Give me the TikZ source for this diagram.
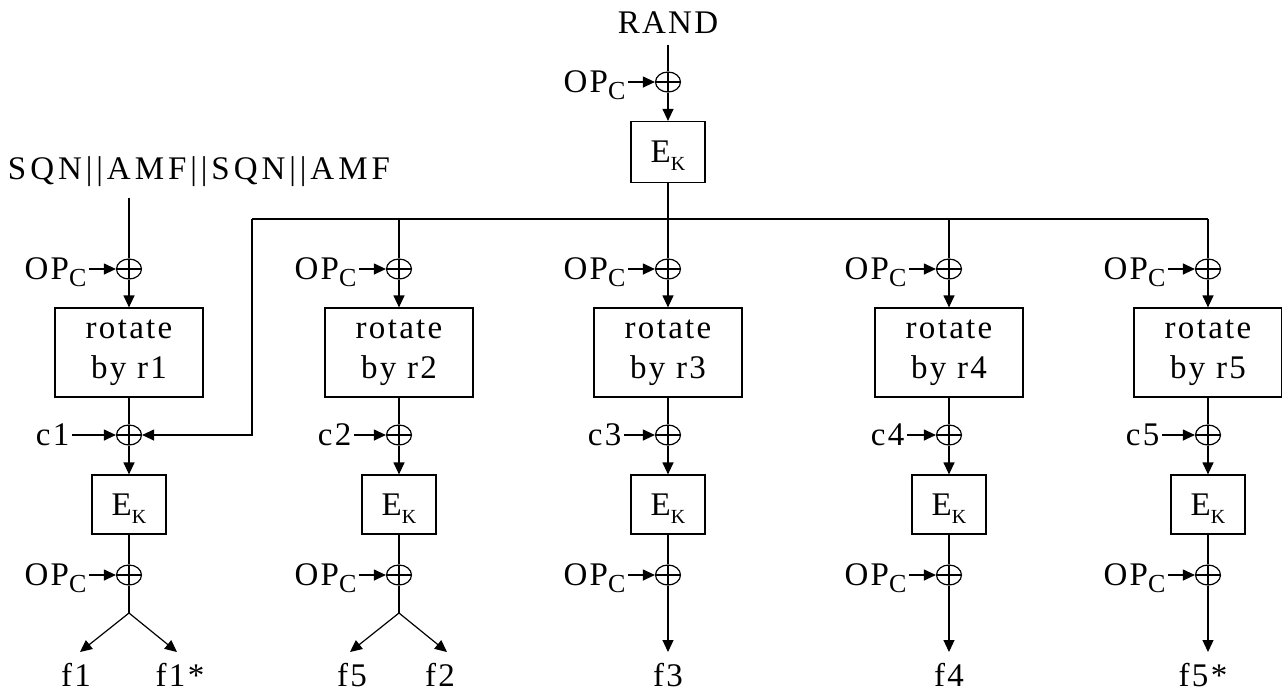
\documentclass[tikz,border=0pt]{standalone}
\usepackage{fontspec}
\setmainfont{Liberation Serif}[LetterSpace=7]
\usetikzlibrary{shapes.geometric,arrows.meta,positioning}
\newcommand{\subc}[1]{\raisebox{-3.5pt}[0pt][0pt]{\fontsize{13}{13}\selectfont #1}}
\newcommand{\subk}[1]{\raisebox{-4pt}[0pt][0pt]{\fontsize{10}{10}\selectfont #1}}
\newcommand{\opc}{OP\subc{C}}
\newcommand{\ek}{E\subk{K}}
\begin{document}
\begin{tikzpicture}[x=0.5pt,y=-0.5pt,line width=0.6pt,
    every node/.style={font=\fontsize{16.5}{20}\selectfont},
    box/.style={draw,inner sep=0pt,align=center},
    rot/.style={box,minimum width=74pt,minimum height=44.5pt},
    ekbox/.style={box,minimum width=37pt,minimum height=29.5pt},
    xor/.style={draw,ellipse,inner sep=0pt,minimum width=12.5pt,minimum height=10pt,
      path picture={\draw (path picture bounding box.west) -- (path picture bounding box.east)
        (path picture bounding box.north) -- (path picture bounding box.south);}},
    arr/.style={-{Triangle[length=6pt,width=5.5pt]}},
    lbl/.style={inner sep=1pt}]
      \useasboundingbox (0,0) rectangle (1282,693);
      % Top: RAND
      \node[inner sep=5pt] (rand) at (668,23) {RAND};
      \node[xor] (x0) at (668,82) {};
      \node[lbl,anchor=east] (op0) at (628,82) {\opc};
      \node[ekbox,minimum height=30.5pt] (e0) at (668,152) {\ek};
      \draw (rand.south) -- (x0.north);
      \draw[arr] (op0.east) -- (x0.west);
      \draw[arr] (x0) -- (e0);
      % Bus
      \coordinate (bl) at (252,219);
      \coordinate (br) at (1208,219);
      \draw (e0.south) -- (e0.south |- bl);
      \draw (bl) -- (br);
      % SQN input
      \node[inner sep=5pt,font=\fontsize{16.5}{20}\selectfont\addfontfeature{LetterSpace=12}] (sqn) at (199,172) {SQN||AMF||SQN||AMF};
      % Column 1
      \node[xor] (a1) at (129,269) {};
      \node[lbl,anchor=east] (opa1) at (89,269) {\opc};
      \node[rot] (r1) at (129,352.5) {rotate\\by r1};
      \node[xor] (b1) at (129,435) {};
      \node[lbl,anchor=east] (c1) at (72,435) {c1};
      \node[ekbox] (e1) at (129,504.5) {\ek};
      \node[xor] (d1) at (129,575) {};
      \node[lbl,anchor=east] (opd1) at (89,575) {\opc};
      \coordinate (s1) at (129,613);
      \coordinate (t1a) at (80,652);
      \coordinate (t1b) at (177,652);
      \node (f1) at (76,675) {f1};
      \node (f1s) at (180,675) {f1*};
      \draw (sqn.south -| a1) -- (a1.north);
      \draw[arr] (opa1.east) -- (a1.west);
      \draw[arr] (a1) -- (r1);
      \draw (r1) -- (b1);
      \draw[arr] (c1.east) -- (b1.west);
      \draw[arr] (bl) -- (bl |- b1) -- (b1.east);
      \draw[arr] (b1) -- (e1);
      \draw (e1) -- (d1);
      \draw[arr] (opd1.east) -- (d1.west);
      \draw (d1) -- (s1);
      \draw[arr] (s1) -- (t1a);
      \draw[arr] (s1) -- (t1b);
      % Column 2
      \node[xor] (a2) at (399,269) {};
      \node[lbl,anchor=east] (opa2) at (359,269) {\opc};
      \node[rot] (r2) at (399,352.5) {rotate\\by r2};
      \node[xor] (b2) at (399,435) {};
      \node[lbl,anchor=east] (c2) at (354,435) {c2};
      \node[ekbox] (e2) at (399,504.5) {\ek};
      \node[xor] (d2) at (399,575) {};
      \node[lbl,anchor=east] (opd2) at (359,575) {\opc};
      \coordinate (s2) at (399,613);
      \coordinate (t2a) at (350,652);
      \coordinate (t2b) at (447,652);
      \node (f5) at (352,675) {f5};
      \node (f2) at (440,675) {f2};
      \draw (a2 |- bl) -- (a2.north);
      \draw[arr] (opa2.east) -- (a2.west);
      \draw[arr] (a2) -- (r2);
      \draw (r2) -- (b2);
      \draw[arr] (c2.east) -- (b2.west);
      \draw[arr] (b2) -- (e2);
      \draw (e2) -- (d2);
      \draw[arr] (opd2.east) -- (d2.west);
      \draw (d2) -- (s2);
      \draw[arr] (s2) -- (t2a);
      \draw[arr] (s2) -- (t2b);
      % Column 3
      \node[xor] (a3) at (668,269) {};
      \node[lbl,anchor=east] (opa3) at (628,269) {\opc};
      \node[rot] (r3) at (668,352.5) {rotate\\by r3};
      \node[xor] (b3) at (668,435) {};
      \node[lbl,anchor=east] (c3) at (624,435) {c3};
      \node[ekbox] (e3) at (668,504.5) {\ek};
      \node[xor] (d3) at (668,575) {};
      \node[lbl,anchor=east] (opd3) at (628,575) {\opc};
      \coordinate (t3) at (668,652);
      \node (f3) at (668,675) {f3};
      \draw (e0.south |- bl) -- (a3.north);
      \draw[arr] (opa3.east) -- (a3.west);
      \draw[arr] (a3) -- (r3);
      \draw (r3) -- (b3);
      \draw[arr] (c3.east) -- (b3.west);
      \draw[arr] (b3) -- (e3);
      \draw (e3) -- (d3);
      \draw[arr] (opd3.east) -- (d3.west);
      \draw[arr] (d3) -- (t3);
      % Column 4
      \node[xor] (a4) at (949,269) {};
      \node[lbl,anchor=east] (opa4) at (909,269) {\opc};
      \node[rot] (r4) at (949,352.5) {rotate\\by r4};
      \node[xor] (b4) at (949,435) {};
      \node[lbl,anchor=east] (c4) at (907,435) {c4};
      \node[ekbox] (e4) at (949,504.5) {\ek};
      \node[xor] (d4) at (949,575) {};
      \node[lbl,anchor=east] (opd4) at (909,575) {\opc};
      \coordinate (t4) at (949,652);
      \node (f4) at (949,675) {f4};
      \draw (a4 |- bl) -- (a4.north);
      \draw[arr] (opa4.east) -- (a4.west);
      \draw[arr] (a4) -- (r4);
      \draw (r4) -- (b4);
      \draw[arr] (c4.east) -- (b4.west);
      \draw[arr] (b4) -- (e4);
      \draw (e4) -- (d4);
      \draw[arr] (opd4.east) -- (d4.west);
      \draw[arr] (d4) -- (t4);
      % Column 5
      \node[xor] (a5) at (1208,269) {};
      \node[lbl,anchor=east] (opa5) at (1168,269) {\opc};
      \node[rot] (r5) at (1208,352.5) {rotate\\by r5};
      \node[xor] (b5) at (1208,435) {};
      \node[lbl,anchor=east] (c5) at (1162,435) {c5};
      \node[ekbox] (e5) at (1208,504.5) {\ek};
      \node[xor] (d5) at (1208,575) {};
      \node[lbl,anchor=east] (opd5) at (1168,575) {\opc};
      \coordinate (t5) at (1208,652);
      \node (f5s) at (1203,675) {f5*};
      \draw (br) -- (a5.north);
      \draw[arr] (opa5.east) -- (a5.west);
      \draw[arr] (a5) -- (r5);
      \draw (r5) -- (b5);
      \draw[arr] (c5.east) -- (b5.west);
      \draw[arr] (b5) -- (e5);
      \draw (e5) -- (d5);
      \draw[arr] (opd5.east) -- (d5.west);
      \draw[arr] (d5) -- (t5);
\end{tikzpicture}
\end{document}
